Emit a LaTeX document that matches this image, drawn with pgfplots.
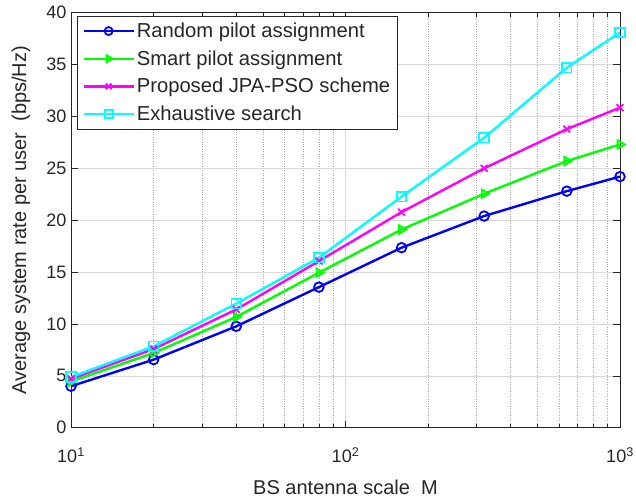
\documentclass[border=0pt]{standalone}
\usepackage{fontspec}
\setmainfont{Liberation Sans}
\usepackage{pgfplots}
\pgfplotsset{compat=1.18}
\definecolor{mblue}{RGB}{0,0,255}
\definecolor{mgreen}{RGB}{0,255,0}
\definecolor{mmag}{RGB}{255,0,255}
\definecolor{mcyan}{RGB}{0,255,255}
\definecolor{txt}{RGB}{38,38,38}
\begin{document}
\begin{tikzpicture}
\begin{semilogxaxis}[
  scale only axis, width=549pt, height=415pt,
  xmin=10, xmax=1000, ymin=0, ymax=40,
  xtick={10,100,1000},
  xticklabels={10\textsuperscript{1},10\textsuperscript{2},10\textsuperscript{3}},
  ytick={0,5,...,40},
  /pgf/number format/assume math mode=true,
  tick align=inside,
  major tick length=7pt, minor tick length=4pt,
  tick style={black!85, line width=0.6pt},
  axis line style={black!85, line width=0.8pt},
  grid=both,
  major grid style={solid, black!15, line width=0.6pt},
  minor grid style={dotted, black!35, line width=0.6pt},
  ticklabel style={font=\fontsize{18}{20}\selectfont, text=txt},
  xticklabel style={anchor=base, yshift=-35pt},
  yticklabel style={xshift=-1pt},
  xlabel={BS antenna scale\ \ M},
  ylabel={Average system rate per user\ \ (bps/Hz)},
  every axis x label/.style={at={(axis description cs:0.5,0)}, yshift=-59.5pt, anchor=center},
  every axis y label/.style={at={(axis description cs:0,0.5)}, xshift=-50pt, rotate=90, anchor=center},
  label style={font=\fontsize{20}{22}\selectfont, text=txt},
  legend style={at={(0.011,0.993)}, anchor=north west, draw=black!85, line width=0.8pt,
    font=\fontsize{20.2}{22}\selectfont, text=txt, row sep=7.5pt, inner sep=5pt},
  legend cell align=left,
  legend image code/.code={%
    \draw[mark repeat=2, mark phase=2, mark size=4pt]
      plot coordinates {(0pt,0pt) (25pt,0pt) (50pt,0pt)};},
  every axis plot/.append style={line width=2.4pt, mark size=4.8pt},
]
\addplot[color=mblue, mark=o, mark options={line width=1.8pt}] coordinates {
 (10,4.0) (20,6.56) (40,9.77) (80,13.55) (160,17.35) (320,20.4) (640,22.8) (1000,24.2)};
\addlegendentry{Random pilot assignment}
\addplot[color=mgreen, mark=triangle, mark options={rotate=-90, line width=1.8pt}] coordinates {
 (10,4.45) (20,7.2) (40,10.68) (80,14.94) (160,19.1) (320,22.55) (640,25.7) (1000,27.3)};
\addlegendentry{Smart pilot assignment}
\addplot[color=mmag, mark=x, mark options={line width=1.8pt}] coordinates {
 (10,4.7) (20,7.58) (40,11.4) (80,16.06) (160,20.78) (320,25.0) (640,28.78) (1000,30.85)};
\addlegendentry{Proposed JPA-PSO scheme}
\addplot[color=mcyan, mark=square, mark options={line width=1.8pt}] coordinates {
 (10,4.87) (20,7.84) (40,11.96) (80,16.39) (160,22.27) (320,27.95) (640,34.7) (1000,38.1)};
\addlegendentry{Exhaustive search}
\end{semilogxaxis}
\pgfresetboundingbox
\path[use as bounding box] ([shift={(-71pt,-75pt)}]current axis.south west) rectangle ([shift={(16pt,12.7pt)}]current axis.north east);
\end{tikzpicture}
\end{document}
